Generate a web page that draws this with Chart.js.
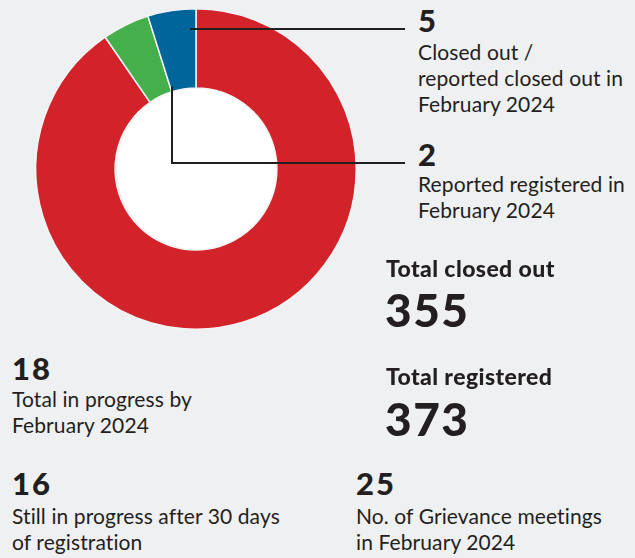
<!DOCTYPE html>
<html>
<head>
<meta charset="utf-8">
<script src="https://cdn.jsdelivr.net/npm/chart.js@4"></script>
<style>
  html, body { margin: 0; padding: 0; }
  body {
    width: 635px;
    height: 558px;
    background: #eff0f2;
    position: relative;
    overflow: hidden;
    font-family: 'Lato', 'Noto Sans', sans-serif;
    color: #231f20;
  }
  #donut { position: absolute; left: 0; top: 0; }
  .txt { position: absolute; white-space: nowrap; }
</style>
</head>
<body>
<canvas id="donut" width="410" height="340"></canvas>
<div id="labels"></div>
<script>
const sliceLabels = ['Remaining cases', 'Reported registered in February 2024', 'Closed out / reported closed out in February 2024'];
const sliceValues = [90.4, 4.75, 4.85];
const sliceColors = ['#d2232a', '#45b04b', '#00659a'];

// callout and summary figures
const calloutClosed = ['5', 'Closed out /', 'reported closed out in', 'February 2024'];
const calloutRegistered = ['2', 'Reported registered in', 'February 2024'];
const totalClosed = ['Total closed out', '355'];
const totalRegistered = ['Total registered', '373'];
const inProgress = ['18', 'Total in progress by', 'February 2024'];
const stillInProgress = ['16', 'Still in progress after 30 days', 'of registration'];
const meetings = ['25', 'No. of Grievance meetings', 'in February 2024'];

const INK = '#231f20';

/**
 * Put a line of text so that its baseline sits at y (Lato metrics)
 */
function placeText(text, x, baseline, size, weight, spacing) {
  const lh = Math.round(size * 1.3);
  const el = document.createElement('div');
  el.className = 'txt';
  el.textContent = text;
  el.style.left = x + 'px';
  el.style.fontSize = size + 'px';
  el.style.fontWeight = weight;
  el.style.lineHeight = lh + 'px';
  el.style.letterSpacing = (spacing || 0) + 'px';
  el.style.top = (baseline - ((lh - 1.2 * size) / 2 + 0.987 * size)) + 'px';
  document.getElementById('labels').appendChild(el);
}

function placeBlock(lines, x, numBaseline, firstBaseline) {
  placeText(lines[0], x, numBaseline, 31, 900, 2);
  lines.slice(1).forEach((line, i) => {
    placeText(line, x, firstBaseline + i * 26, 21, 400, 0.1);
  });
}

placeBlock(calloutClosed, 418, 32, 60);
placeBlock(calloutRegistered, 418, 166, 192);
placeBlock(inProgress, 12, 380, 407);
placeBlock(stillInProgress, 12, 495, 524);
placeBlock(meetings, 356, 495, 524);

placeText(totalClosed[0], 386, 277, 23, 900, 0.4);
placeText(totalClosed[1], 385, 328, 46, 900, 1.5);
placeText(totalRegistered[0], 386, 385, 23, 900, 0.4);
placeText(totalRegistered[1], 385, 437, 46, 900, 1.5);

// white hole in the middle of the ring
const holePlugin = {
  id: 'hole',
  beforeDatasetsDraw(chart) {
    const arc = chart.getDatasetMeta(0).data[0];
    if (!arc) return;
    const ctx = chart.ctx;
    ctx.save();
    ctx.beginPath();
    ctx.arc(arc.x + 2, arc.y, arc.innerRadius, 0, Math.PI * 2);
    ctx.fillStyle = '#ffffff';
    ctx.fill();
    ctx.restore();
  }
};

// leader lines from the blue and green slices to their callouts
const leaderPlugin = {
  id: 'leaders',
  afterDatasetsDraw(chart) {
    const meta = chart.getDatasetMeta(0);
    const green = meta.data[1];
    const blue = meta.data[2];
    if (!green || !blue) return;
    const ctx = chart.ctx;
    const endX = chart.width - 5;
    ctx.save();
    ctx.strokeStyle = INK;
    ctx.lineWidth = 2;

    const y1 = Math.round(blue.y - blue.outerRadius * 0.874);
    ctx.beginPath();
    ctx.moveTo(blue.x - 6, y1);
    ctx.lineTo(endX, y1);
    ctx.stroke();

    const x2 = green.x - 24;
    const y2 = Math.round(green.y - 6);
    ctx.beginPath();
    ctx.moveTo(x2, green.y - green.innerRadius * 1.02);
    ctx.lineTo(x2, y2);
    ctx.lineTo(endX, y2);
    ctx.stroke();
    ctx.restore();
  }
};

new Chart(document.getElementById('donut'), {
  type: 'doughnut',
  data: {
    labels: sliceLabels,
    datasets: [{
      data: sliceValues,
      backgroundColor: sliceColors,
      borderColor: '#f3f4f5',
      borderWidth: 1.5
    }]
  },
  options: {
    responsive: false,
    animation: false,
    cutout: '50.5%',
    layout: { padding: { left: 35, right: 53, top: 8, bottom: 10 } },
    plugins: {
      legend: { display: false },
      tooltip: { enabled: false }
    }
  },
  plugins: [holePlugin, leaderPlugin]
});
</script>
</body>
</html>
